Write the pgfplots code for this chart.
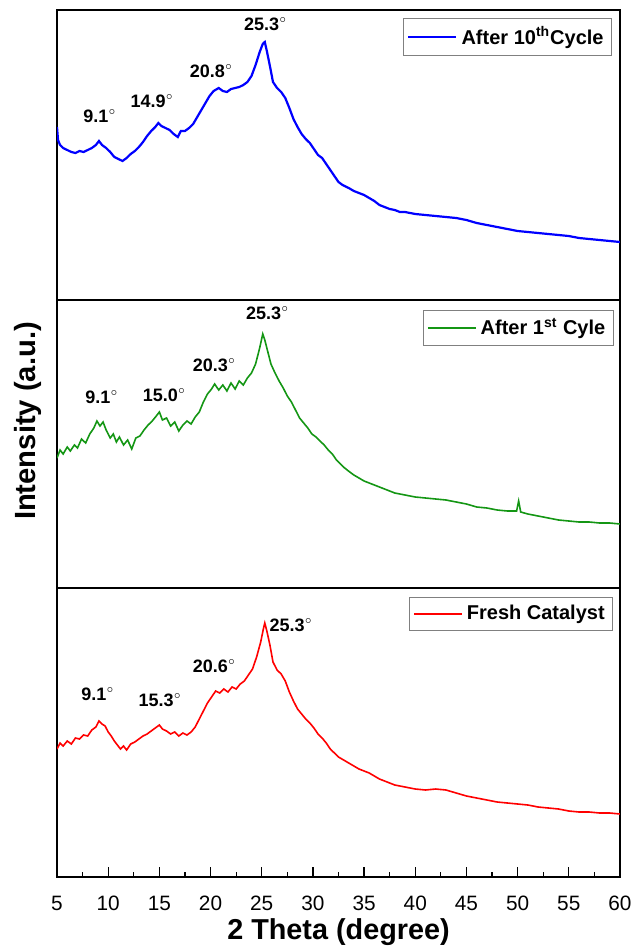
\documentclass[border=0pt]{standalone}
\usepackage{pgfplots}
\pgfplotsset{compat=1.18}
\usepackage{fontspec}
\setmainfont{Liberation Sans}
\definecolor{xgreen}{RGB}{20,150,20}
\newcommand{\dg}{$^{\scriptscriptstyle\circ}$}
\pgfplotsset{longleg/.style={legend image code/.code={\draw[##1] (0pt,0pt) -- (24pt,0pt);}}}
\begin{document}
\begin{tikzpicture}
\useasboundingbox (0pt,0pt) rectangle (317.5pt,-474.5pt);
\tikzset{lbl/.style={font=\bfseries\fontsize{9}{11}\selectfont, anchor=center}}
\pgfplotsset{
  panel/.style={
    scale only axis, width=281.5pt,
    xmin=5, xmax=60, ymin=0,
    ytick=\empty, xtick=\empty,
    axis line style={line width=1pt},
    clip=true,
    legend cell align=left,
    legend style={draw=gray, line width=0.5pt, fill=white,
      font=\bfseries\fontsize{10}{12}\selectfont, inner sep=2pt},
  },
}
% ---------------- top panel ----------------
\begin{axis}[panel, at={(28.5pt,-150pt)}, anchor=south west, height=145pt, ymax=290,
  legend style={at={(0.986,0.972)}, anchor=north east}]
\addplot[blue, line width=1.1pt, longleg] coordinates {
(5.0,173)(5.1,160)(5.3,155)(5.6,152)(6.0,150)(6.4,148)(6.8,147)(7.2,149)(7.6,148)(8.0,150)
(8.4,152)(8.8,155)(9.1,159)(9.4,155)(9.8,152)(10.2,148)(10.6,143)(11.0,141)(11.4,139)(11.8,142)
(12.2,146)(12.6,149)(13.0,153)(13.4,158)(13.8,164)(14.2,169)(14.6,173)(14.9,177)(15.2,174)(15.6,172)
(16.0,170)(16.4,166)(16.8,163)(17.1,169)(17.5,169)(17.9,172)(18.3,176)(18.7,183)(19.1,190)(19.5,197)
(19.9,204)(20.3,209)(20.8,212)(21.2,209)(21.6,208)(22.0,211)(22.4,212)(22.8,213)(23.2,215)(23.6,218)
(24.0,224)(24.4,235)(24.8,248)(25.1,256)(25.3,258)(25.5,249)(25.8,234)(26.1,218)(26.5,212)(26.9,208)
(27.3,202)(27.7,192)(28.1,181)(28.5,173)(28.9,166)(29.3,161)(29.7,157)(30.1,151)(30.5,145)(30.9,142)
(31.3,136)(31.7,130)(32.1,124)(32.5,118)(32.9,115)(33.5,112)(34.0,109)(34.5,107)(35.0,105)(35.5,102)
(36.0,99)(36.5,95)(37.0,93)(37.5,91)(38.0,90)(38.5,88)(39.0,88)(40.0,86)(41.0,85)(42.0,84)
(43.0,83)(44.0,82)(45.0,80)(46.0,77)(47.0,75)(48.0,73)(49.0,71)(50.0,69)(51.0,68)(52.0,67)
(53.0,66)(54.0,65)(55.0,64)(56.0,62)(57.0,61)(58.0,60)(59.0,59)(60.0,58)
};
\addlegendentry{After 10\textsuperscript{th}Cycle}
\node[lbl] at (axis cs:9.2,184) {9.1\dg};
\node[lbl] at (axis cs:14.3,199) {14.9\dg};
\node[lbl] at (axis cs:20.1,229) {20.8\dg};
\node[lbl] at (axis cs:25.4,276) {25.3\dg};
\end{axis}
% ---------------- middle panel ----------------
\begin{axis}[panel, at={(28.5pt,-294pt)}, anchor=south west, height=144pt, ymax=288,
  legend style={at={(0.989,0.965)}, anchor=north east}]
\addplot[xgreen, line width=0.8pt, longleg] coordinates {
(5.0,130)(5.3,138)(5.6,134)(6.0,141)(6.3,137)(6.7,143)(7.0,140)(7.4,149)(7.8,145)(8.2,154)
(8.6,160)(8.9,167)(9.2,162)(9.5,166)(9.8,158)(10.2,150)(10.5,154)(10.8,146)(11.1,151)(11.5,143)
(11.9,148)(12.3,139)(12.7,150)(13.1,152)(13.5,158)(13.9,163)(14.3,167)(14.7,172)(15.0,176)(15.3,168)
(15.7,170)(16.1,162)(16.5,166)(16.9,157)(17.3,163)(17.7,167)(18.1,164)(18.5,171)(18.9,176)(19.3,186)
(19.7,194)(20.1,199)(20.4,204)(20.8,198)(21.2,203)(21.6,197)(22.0,205)(22.4,199)(22.8,207)(23.2,203)
(23.6,210)(24.0,215)(24.4,224)(24.8,240)(25.1,254)(25.3,248)(25.6,236)(25.9,224)(26.3,215)(26.7,207)
(27.1,200)(27.5,192)(27.9,186)(28.3,178)(28.7,170)(29.1,165)(29.5,160)(29.9,154)(30.3,151)(30.7,147)
(31.1,143)(31.5,138)(31.9,134)(32.3,128)(32.7,124)(33.1,120)(33.6,116)(34.0,113)(34.5,110)(35.0,107)
(35.5,105)(36.0,103)(36.5,101)(37.0,99)(37.5,97)(38.0,95)(39.0,93)(40.0,91)(41.0,90)(42.0,89)
(43.0,88)(44.0,86)(45.0,84)(46.0,81)(47.0,80)(48.0,78)(49.0,77)(49.9,77)(50.1,87)(50.3,76)
(51.0,74)(52.0,72)(53.0,70)(54.0,68)(55.0,67)(56.0,66)(57.0,66)(58.0,65)(59.0,65)(60.0,64)
};
\addlegendentry{After 1\textsuperscript{st} Cyle}
\node[lbl] at (axis cs:9.4,191) {9.1\dg};
\node[lbl] at (axis cs:15.5,193) {15.0\dg};
\node[lbl] at (axis cs:20.4,223) {20.3\dg};
\node[lbl] at (axis cs:25.6,275) {25.3\dg};
\end{axis}
% ---------------- bottom panel ----------------
\begin{axis}[panel, at={(28.5pt,-438.5pt)}, anchor=south west, height=144.5pt, ymax=289,
  xtick={5,10,...,60}, minor x tick num=1, xtick pos=bottom, tick align=inside,
  major tick length=5pt, minor tick length=2.5pt,
  every tick/.style={black, line width=0.6pt},
  ticklabel style={font=\fontsize{10.4}{12}\selectfont},
  xticklabel style={yshift=-6pt},
  /pgf/number format/assume math mode=true,
  xlabel={2 Theta (degree)},
  xlabel style={font=\bfseries\fontsize{14.4}{16}\selectfont,
    at={(axis description cs:0.5,0)}, anchor=center, yshift=-27.5pt},
  legend style={at={(0.988,0.969)}, anchor=north east}]
\addplot[red, line width=0.8pt, longleg] coordinates {
(5.0,128)(5.3,134)(5.6,131)(6.0,136)(6.4,133)(6.8,139)(7.2,138)(7.6,142)(8.0,141)(8.4,147)
(8.8,150)(9.1,156)(9.4,153)(9.7,151)(10.0,145)(10.3,141)(10.6,136)(10.9,132)(11.2,128)(11.5,131)
(11.8,127)(12.2,133)(12.6,135)(13.0,138)(13.4,141)(13.8,143)(14.2,146)(14.6,149)(15.0,152)(15.3,148)
(15.7,146)(16.1,143)(16.5,145)(16.9,141)(17.3,144)(17.7,142)(18.1,145)(18.5,150)(18.9,158)(19.3,166)
(19.7,174)(20.1,180)(20.5,186)(20.9,184)(21.3,188)(21.7,185)(22.1,190)(22.5,188)(22.9,193)(23.3,196)
(23.7,202)(24.1,208)(24.5,220)(24.9,235)(25.2,250)(25.3,254)(25.5,246)(25.8,232)(26.1,215)(26.5,207)
(26.9,203)(27.3,196)(27.7,185)(28.1,176)(28.5,168)(28.9,163)(29.3,158)(29.7,154)(30.1,149)(30.5,143)
(30.9,139)(31.3,134)(31.7,128)(32.1,124)(32.5,120)(33.0,117)(33.5,114)(34.0,111)(34.5,108)(35.0,106)
(35.5,104)(36.0,101)(36.5,98)(37.0,96)(37.5,94)(38.0,92)(39.0,90)(40.0,88)(41.0,87)(42.0,88)
(43.0,87)(44.0,84)(45.0,81)(46.0,79)(47.0,77)(48.0,75)(49.0,74)(50.0,73)(51.0,72)(52.0,70)
(53.0,69)(54.0,68)(55.0,66)(56.0,65)(57.0,65)(58.0,64)(59.0,64)(60.0,63)
};
\addlegendentry{Fresh Catalyst}
\node[lbl] at (axis cs:9.0,183) {9.1\dg};
\node[lbl] at (axis cs:15.1,177) {15.3\dg};
\node[lbl] at (axis cs:20.4,211) {20.6\dg};
\node[lbl] at (axis cs:27.9,252) {25.3\dg};
\end{axis}
\node[rotate=90, font=\bfseries\fontsize{14.6}{16}\selectfont] at (14pt,-210.5pt) {Intensity (a.u.)};
\end{tikzpicture}
\end{document}
